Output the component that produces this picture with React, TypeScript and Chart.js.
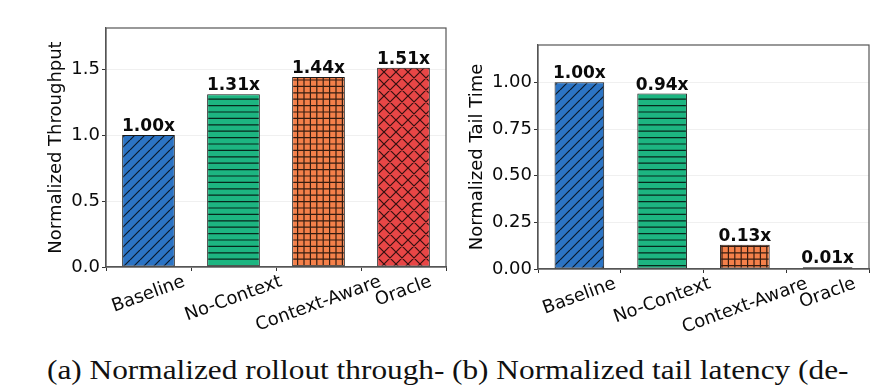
import React, { useEffect, useRef } from "react";
import { Chart, registerables } from "chart.js";

Chart.register(...registerables);

// ---- data ----
const categories = ["Baseline", "No-Context", "Context-Aware", "Oracle"];
const throughputValues = [1.0, 1.31, 1.44, 1.51];
const tailTimeValues = [1.0, 0.94, 0.13, 0.01];
const throughputMax = 1.812;
const tailTimeMax = 1.2;
const throughputStep = 0.5;
const tailTimeStep = 0.25;
const barColors = ["#2c74c4", "#1db581", "#f4804a", "#e84646"];
const hatchKinds = ["diag", "horiz", "grid", "cross"];
const captionA = "(a) Normalized rollout through-";
const captionB = "(b) Normalized tail latency (de-";

const FONT = "'DejaVu Sans', sans-serif";
const TEXT = "#0a0a0a";

function makePattern(color: string, kind: string): CanvasPattern | string {
  const size = kind === "diag" ? 10 : kind === "cross" ? 12 : 32;
  const c = document.createElement("canvas");
  c.width = size;
  c.height = size;
  const g = c.getContext("2d");
  if (!g) return color;
  g.fillStyle = color;
  g.fillRect(0, 0, size, size);
  g.strokeStyle = "rgba(0,0,0,0.78)";
  g.lineWidth = 1.2;
  g.beginPath();
  if (kind === "diag" || kind === "cross") {
    for (let k = -1; k <= 1; k++) {
      g.moveTo(k * size, size);
      g.lineTo(k * size + size, 0);
    }
  }
  if (kind === "cross") {
    for (let k = -1; k <= 1; k++) {
      g.moveTo(k * size, 0);
      g.lineTo(k * size + size, size);
    }
  }
  if (kind === "horiz" || kind === "grid") {
    for (let i = 0; i < 5; i++) {
      const y = (i + 0.5) * (size / 5);
      g.moveTo(0, y);
      g.lineTo(size, y);
    }
  }
  if (kind === "grid") {
    for (let i = 0; i < 5; i++) {
      const x = (i + 0.5) * (size / 5);
      g.moveTo(x, 0);
      g.lineTo(x, size);
    }
  }
  g.stroke();
  const p = g.createPattern(c, "repeat");
  return p || color;
}

const framePlugin = {
  id: "frame",
  afterDatasetsDraw(chart: any) {
    const { ctx, chartArea } = chart;
    ctx.save();
    ctx.strokeStyle = "#555";
    ctx.lineWidth = 1.2;
    ctx.strokeRect(chartArea.left, chartArea.top, chartArea.right - chartArea.left, chartArea.bottom - chartArea.top);
    ctx.restore();
  },
};

const valueLabelPlugin = {
  id: "valueLabels",
  afterDraw(chart: any) {
    const { ctx } = chart;
    const meta = chart.getDatasetMeta(0);
    const vals = chart.data.datasets[0].data as number[];
    ctx.save();
    ctx.font = `bold 17px ${FONT}`;
    ctx.fillStyle = TEXT;
    ctx.textAlign = "center";
    ctx.textBaseline = "alphabetic";
    meta.data.forEach((bar: any, i: number) => {
      ctx.fillText(vals[i].toFixed(2) + "x", bar.x, bar.y - 4);
    });
    ctx.restore();
  },
};

const xLabelPlugin = {
  id: "xLabels",
  afterDraw(chart: any) {
    const { ctx, chartArea } = chart;
    const xs = chart.scales.x;
    const theta = (20 * Math.PI) / 180;
    const fs = 18;
    const h = fs * 1.16;
    ctx.save();
    ctx.font = `${fs}px ${FONT}`;
    ctx.fillStyle = TEXT;
    ctx.textAlign = "center";
    ctx.textBaseline = "middle";
    (chart.data.labels as string[]).forEach((lab, i) => {
      const x = xs.getPixelForValue(i);
      const w = ctx.measureText(lab).width;
      const H = w * Math.sin(theta) + h * Math.cos(theta);
      const cy = chartArea.bottom + 4.5 + H / 2;
      ctx.save();
      ctx.translate(x, cy);
      ctx.rotate(-theta);
      ctx.fillText(lab, 0, 0);
      ctx.restore();
    });
    ctx.restore();
  },
};

type PanelProps = {
  values: number[];
  max: number;
  step: number;
  decimals: number;
  title: string;
  width: number;
  height: number;
  padTop: number;
  padRight: number;
  yWidth: number;
  xHeight: number;
  titlePad: number;
  barPct: number;
};

function BarPanel(p: PanelProps) {
  const ref = useRef<HTMLCanvasElement | null>(null);
  useEffect(() => {
    if (!ref.current) return;
    const patterns = barColors.map((c, i) => makePattern(c, hatchKinds[i]));
    const chart = new Chart(ref.current, {
      type: "bar",
      data: {
        labels: categories,
        datasets: [
          {
            data: p.values,
            backgroundColor: patterns as any,
            borderColor: "#1a1a1a",
            borderWidth: 1,
            borderSkipped: false,
            barPercentage: p.barPct,
            categoryPercentage: 1,
          },
        ],
      },
      options: {
        animation: false,
        responsive: false,
        maintainAspectRatio: false,
        devicePixelRatio: 1,
        layout: { padding: { top: p.padTop, right: p.padRight, left: 0, bottom: 0 } },
        plugins: { legend: { display: false }, tooltip: { enabled: false } },
        scales: {
          x: {
            grid: { display: true, drawOnChartArea: false, drawTicks: true, tickLength: 4, tickColor: "#333", tickWidth: 1 },
            border: { display: true, color: "#555", width: 1.2 },
            ticks: { display: false },
            afterFit: (s: any) => {
              s.height = p.xHeight;
            },
          },
          y: {
            min: 0,
            max: p.max,
            ticks: {
              stepSize: p.step,
              includeBounds: false,
              font: { family: FONT, size: 18 },
              color: TEXT,
              padding: 2,
              callback: (v: any) => Number(v).toFixed(p.decimals),
            },
            grid: { color: "#ececec", lineWidth: 0.8, tickColor: "#333", tickLength: 4, tickWidth: 1 },
            border: { display: true, color: "#555", width: 1.2 },
            title: {
              display: true,
              text: p.title,
              font: { family: FONT, size: 18 },
              color: TEXT,
              padding: { top: p.titlePad, bottom: 0 },
            },
            afterFit: (s: any) => {
              s.width = p.yWidth;
            },
          },
        },
      } as any,
      plugins: [framePlugin, valueLabelPlugin, xLabelPlugin],
    });
    return () => chart.destroy();
  }, []);
  return <canvas ref={ref} width={p.width} height={p.height} style={{ width: p.width, height: p.height, display: "block" }} />;
}

const captionStyle: React.CSSProperties = {
  position: "absolute",
  fontFamily: "'Liberation Serif', 'Times New Roman', serif",
  fontSize: 27,
  lineHeight: "27px",
  color: "#111",
  whiteSpace: "nowrap",
  transform: "scaleX(1.16)",
  transformOrigin: "left top",
};

export default function App() {
  return (
    <div style={{ position: "fixed", left: 0, top: 0, width: 892, height: 389, background: "#fff", overflow: "hidden" }}>
      <div style={{ position: "absolute", left: 0, top: 0 }}>
        <BarPanel
          values={throughputValues}
          max={throughputMax}
          step={throughputStep}
          decimals={1}
          title="Normalized Throughput"
          width={450}
          height={345}
          padTop={28}
          padRight={4}
          yWidth={106}
          xHeight={78}
          titlePad={46}
          barPct={0.62}
        />
      </div>
      <div style={{ position: "absolute", left: 450, top: 0 }}>
        <BarPanel
          values={tailTimeValues}
          max={tailTimeMax}
          step={tailTimeStep}
          decimals={2}
          title="Normalized Tail Time"
          width={442}
          height={345}
          padTop={45}
          padRight={23}
          yWidth={88}
          xHeight={76}
          titlePad={17}
          barPct={0.6}
        />
      </div>
      <div style={{ ...captionStyle, left: 47, top: 357 }}>{captionA}</div>
      <div style={{ ...captionStyle, left: 452, top: 357 }}>{captionB}</div>
    </div>
  );
}
